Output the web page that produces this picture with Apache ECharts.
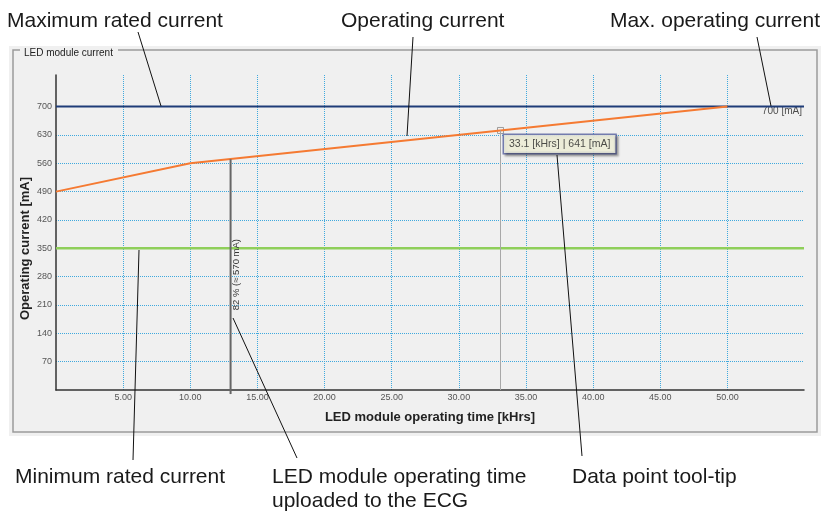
<!DOCTYPE html>
<html>
<head>
<meta charset="utf-8">
<title>LED module current</title>
<script src="https://cdn.jsdelivr.net/npm/echarts@6/dist/echarts.min.js"></script>
<style>
  html, body { margin: 0; padding: 0; background: #fff; }
  #main { width: 830px; height: 512px; }
</style>
</head>
<body>
<div id="main"></div>
<script>
// ---- values ----
var xTicks = [5, 10, 15, 20, 25, 30, 35, 40, 45, 50];
var yTicks = [70, 140, 210, 280, 350, 420, 490, 560, 630, 700];
var xMax = 55.7;
var yMax = 778;

var opTime = [0, 10, 50];          // kHrs
var opCurrent = [490, 560, 700];   // mA
var maxRated = 700;
var minRated = 350;
var uploadTime = 13;
var uploadCurrent = 570;
var uploadPct = 82;
var tipTime = 33.1;
var tipCurrent = 641;

var FONT = "'Liberation Sans', Arial, sans-serif";

var opData = opTime.map(function (t, i) { return [t, opCurrent[i]]; });

var chart = echarts.init(document.getElementById('main'));

var option = {
  backgroundColor: '#fff',
  animation: false,
  textStyle: { fontFamily: FONT },
  grid: { left: 56, right: 26, top: 75, bottom: 122 },
  xAxis: {
    type: 'value', min: 0, max: xMax,
    name: 'LED module operating time [kHrs]',
    nameLocation: 'middle', nameGap: 21, nameMoveOverlap: false,
    nameTextStyle: { fontFamily: FONT, fontSize: 13, fontWeight: 'bold', color: '#222' },
    axisLine: { show: true, lineStyle: { color: '#333', width: 1.5 } },
    axisTick: { show: false, customValues: xTicks },
    axisLabel: {
      customValues: xTicks, margin: 3, fontSize: 9, color: '#555',
      formatter: function (v) { return v.toFixed(2); }
    },
    splitLine: { show: true, lineStyle: { color: '#3fa9de', type: 'dotted', width: 1 } }
  },
  yAxis: {
    type: 'value', min: 0, max: yMax,
    name: 'Operating current [mA]',
    nameLocation: 'middle', nameGap: 24, nameMoveOverlap: false,
    nameTextStyle: { fontFamily: FONT, fontSize: 13, fontWeight: 'bold', color: '#222', padding: [0, 32, 0, 0] },
    axisLine: { show: true, lineStyle: { color: '#333', width: 1.5 } },
    axisTick: { show: false, customValues: yTicks },
    axisLabel: { customValues: yTicks, margin: 4, fontSize: 9, color: '#555' },
    splitLine: { show: true, lineStyle: { color: '#3fa9de', type: 'dotted', width: 1 } }
  },
  series: [
    {
      name: 'Minimum rated current', type: 'line', symbol: 'none',
      data: [[0, minRated], [xMax, minRated]],
      lineStyle: { color: '#8fcf5a', width: 2.5 }
    },
    {
      name: 'Maximum rated current', type: 'line', symbol: 'none',
      data: [[0, maxRated], [xMax, maxRated]],
      lineStyle: { color: '#1f3c78', width: 2 }
    },
    {
      name: 'Operating current', type: 'line', symbol: 'none',
      data: opData,
      lineStyle: { color: '#f57a32', width: 2 }
    },
    {
      name: 'Upload time', type: 'line', symbol: 'none', clip: false,
      data: [[uploadTime, -10], [uploadTime, uploadCurrent]],
      lineStyle: { color: '#666', width: 2 }
    },
    {
      name: 'Tip line', type: 'line', symbol: 'none',
      data: [[tipTime, 0], [tipTime, tipCurrent]],
      lineStyle: { color: '#a8a8a8', width: 1 }
    },
    {
      name: 'Tip', type: 'scatter', symbol: 'rect', symbolSize: 6,
      data: [[tipTime, tipCurrent]],
      itemStyle: { color: 'rgba(255,255,255,0)', borderColor: '#888', borderWidth: 1 },
      label: {
        show: true, position: [7, 8], align: 'left', verticalAlign: 'top',
        formatter: tipTime + ' [kHrs] | ' + tipCurrent + ' [mA]',
        fontFamily: FONT, fontSize: 10.5, color: '#222',
        backgroundColor: '#fcfce4', borderColor: '#56609f', borderWidth: 1.5,
        padding: [4, 5, 3, 5],
        shadowColor: 'rgba(0,0,0,0.35)', shadowBlur: 2, shadowOffsetX: 2, shadowOffsetY: 2
      }
    },
    {
      name: 'Max label', type: 'scatter', symbolSize: 2,
      data: [[xMax, maxRated]],
      itemStyle: { color: 'rgba(0,0,0,0)' },
      label: {
        show: true, position: [-1, 1], align: 'right', verticalAlign: 'top',
        formatter: maxRated + ' [mA]', fontFamily: FONT, fontSize: 10, color: '#222'
      }
    }
  ]
};

chart.setOption(option);

// ---- frame, callouts and annotation texts ----
function calloutText(t, x, y, align) {
  return {
    type: 'text', z: 100, x: x, y: y,
    style: { text: t, fontFamily: FONT, fontSize: 21, fill: '#1a1a1a', align: align || 'left', verticalAlign: 'top', lineHeight: 24 }
  };
}
function calloutLine(x1, y1, x2, y2) {
  return {
    type: 'line', z: 100,
    shape: { x1: x1, y1: y1, x2: x2, y2: y2 },
    style: { stroke: '#111', lineWidth: 1 }
  };
}

var up = chart.convertToPixel({ gridIndex: 0 }, [uploadTime, 285]);

chart.setOption({
  graphic: [
    { type: 'rect', z: -100, shape: { x: 9, y: 46, width: 812, height: 390 }, style: { fill: '#f0f0f0' } },
    {
      type: 'polyline', z: -90,
      shape: { points: [[118, 50], [817, 50], [817, 432], [13, 432], [13, 50], [20, 50]] },
      style: { stroke: '#9a9a9a', lineWidth: 1.5, fill: null }
    },
    {
      type: 'text', z: 10, x: 24, y: 53,
      style: { text: 'LED module current', fontFamily: FONT, fontSize: 10, fill: '#222', verticalAlign: 'middle' }
    },
    {
      type: 'text', z: 10, x: up[0] + 6, y: up[1], rotation: Math.PI / 2,
      style: {
        text: uploadPct + ' % (\u2248 ' + uploadCurrent + ' mA)', fontFamily: FONT, fontSize: 9.5,
        fill: '#333', align: 'center', verticalAlign: 'middle'
      }
    },
    calloutText('Maximum rated current', 7, 9),
    calloutText('Operating current', 341, 9),
    calloutText('Max. operating current', 820, 9, 'right'),
    calloutText('Minimum rated current', 15, 465),
    calloutText('LED module operating time\nuploaded to the ECG', 272, 465),
    calloutText('Data point tool-tip', 572, 465),
    calloutLine(138, 32, 161, 106),
    calloutLine(413, 37, 407, 136),
    calloutLine(757, 37, 771, 106),
    calloutLine(133, 460, 139, 250),
    calloutLine(297, 458, 233, 318),
    calloutLine(582, 456, 557, 155)
  ]
});
</script>
</body>
</html>
